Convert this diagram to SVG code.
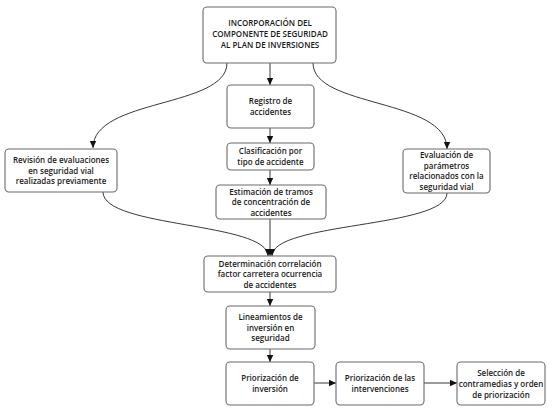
<svg xmlns="http://www.w3.org/2000/svg" width="559" height="412" viewBox="0 0 559 412">
<defs>
<marker id="ah" markerWidth="8" markerHeight="8" refX="7" refY="4" orient="auto" markerUnits="userSpaceOnUse">
<path d="M0,0.8 L7,4 L0,7.2 Z" fill="#111"/>
</marker>
<style>
.box{fill:#fff;stroke:#6b6b6b;stroke-width:1.1}
.t{font-family:"Open Sans","Noto Sans",sans-serif;font-weight:600;font-size:8px;fill:#1a1a1a;text-anchor:middle}
.c{fill:none;stroke:#222;stroke-width:0.9;marker-end:url(#ah)}
</style>
</defs>
<rect width="559" height="412" fill="#fff"/>
<g id="connectors">
<path class="c" d="M270,63 L270,85"/>
<path class="c" d="M227,63 C227,108 93,98 93,148"/>
<path class="c" d="M313,63 C313,108 447,98 447,149"/>
<path class="c" d="M270,128 L270,143"/>
<path class="c" d="M270,170 L270,185"/>
<path class="c" d="M270,219 L270,256"/>
<path class="c" d="M103,192 C103,228 268,222 268,256"/>
<path class="c" d="M447,193 C447,228 272,222 272,256"/>
<path class="c" d="M270,292 L270,306"/>
<path class="c" d="M270,349 L270,362"/>
<path class="c" d="M314,383 L336,383"/>
<path class="c" d="M424,383 L457,383"/>
</g>
<g id="n1"><rect class="box" x="203" y="7" width="133" height="56" rx="4"/>
<text class="t"><tspan x="270" y="26">INCORPORACIÓN DEL</tspan><tspan x="270" y="37">COMPONENTE DE SEGURIDAD</tspan><tspan x="270" y="48">AL PLAN DE INVERSIONES</tspan></text></g>
<g id="n2"><rect class="box" x="227" y="85" width="87" height="43" rx="4"/>
<text class="t"><tspan x="270.5" y="104">Registro de</tspan><tspan x="270.5" y="115">accidentes</tspan></text></g>
<g id="n3"><rect class="box" x="227" y="143" width="87" height="27" rx="4"/>
<text class="t"><tspan x="270.5" y="154">Clasificación por</tspan><tspan x="270.5" y="165">tipo de accidente</tspan></text></g>
<g id="n4"><rect class="box" x="216" y="185" width="110" height="34" rx="4"/>
<text class="t"><tspan x="271" y="194.5">Estimación de tramos</tspan><tspan x="271" y="205">de concentración de</tspan><tspan x="271" y="215.5">accidentes</tspan></text></g>
<g id="n5"><rect class="box" x="5" y="149" width="112" height="43" rx="4"/>
<text class="t"><tspan x="61" y="163">Revisión de evaluaciones</tspan><tspan x="61" y="173.5">en seguridad vial</tspan><tspan x="61" y="184">realizadas previamente</tspan></text></g>
<g id="n6"><rect class="box" x="403" y="149" width="87" height="44" rx="4"/>
<text class="t"><tspan x="446.5" y="158">Evaluación de</tspan><tspan x="446.5" y="168.5">parámetros</tspan><tspan x="446.5" y="179">relacionados con la</tspan><tspan x="446.5" y="189.5">seguridad vial</tspan></text></g>
<g id="n7"><rect class="box" x="204" y="256" width="132" height="36" rx="4"/>
<text class="t"><tspan x="270" y="266.5">Determinación correlación</tspan><tspan x="270" y="277">factor carretera ocurrencia</tspan><tspan x="270" y="287.5">de accidentes</tspan></text></g>
<g id="n8"><rect class="box" x="226" y="306" width="89" height="43" rx="4"/>
<text class="t"><tspan x="270.5" y="320">Lineamientos de</tspan><tspan x="270.5" y="330.5">inversión en</tspan><tspan x="270.5" y="341">seguridad</tspan></text></g>
<g id="n9"><rect class="box" x="226" y="362" width="88" height="43" rx="4"/>
<text class="t"><tspan x="270" y="381">Priorización de</tspan><tspan x="270" y="392">inversión</tspan></text></g>
<g id="n10"><rect class="box" x="336" y="362" width="88" height="43" rx="4"/>
<text class="t"><tspan x="380" y="381">Priorización de las</tspan><tspan x="380" y="392">intervenciones</tspan></text></g>
<g id="n11"><rect class="box" x="457" y="362" width="88" height="43" rx="4"/>
<text class="t"><tspan x="501" y="375.5">Selección de</tspan><tspan x="501" y="386.5">contramedias y orden</tspan><tspan x="501" y="397.5">de priorización</tspan></text></g>
</svg>
